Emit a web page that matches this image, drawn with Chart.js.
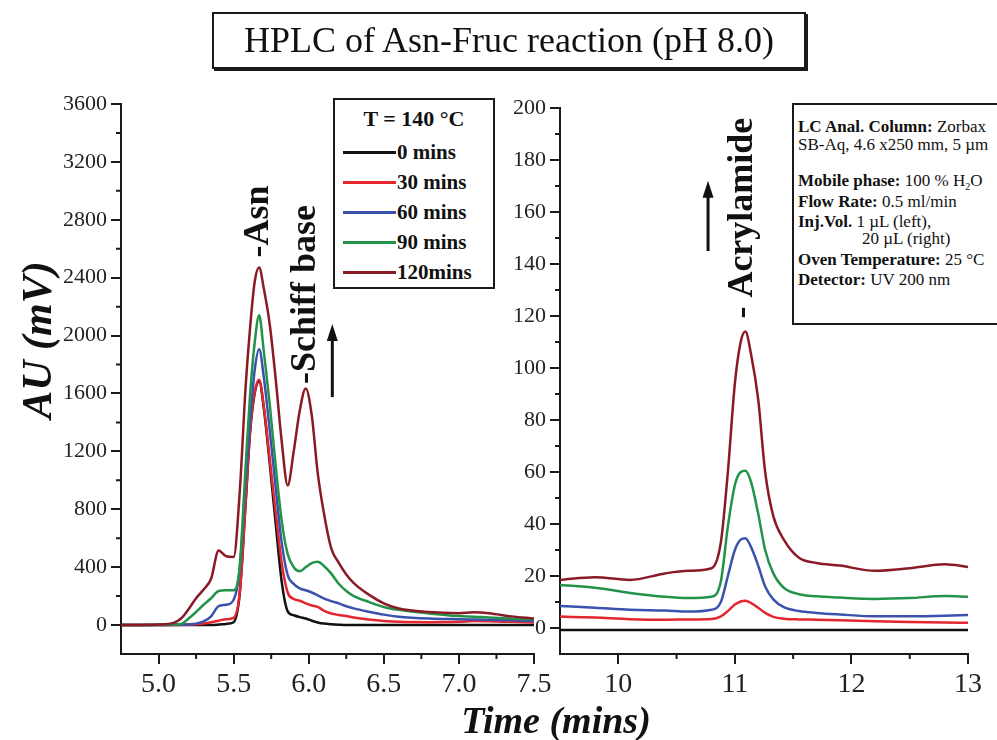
<!DOCTYPE html>
<html>
<head>
<meta charset="utf-8">
<title>HPLC of Asn-Fruc reaction (pH 8.0)</title>
<script src="https://cdn.jsdelivr.net/npm/chart.js@4.4.0/dist/chart.umd.min.js"></script>
<style>
  body { margin: 0; background: #fff; font-family: 'Liberation Serif', 'Times New Roman', serif; color: #111; }
  #wrap { position: relative; width: 997px; height: 740px; overflow: hidden; }
  canvas { position: absolute; top: 0; }
  #left { left: 0; }
  #right { left: 480px; }
  .box { position: absolute; border: 2px solid #1a1a1a; background: #fff; box-sizing: border-box; }
  #title { left: 212px; top: 12px; width: 594px; height: 57px; box-shadow: 2px 2px 0 #1a1a1a;
           font-size: 36px; text-align: center; line-height: 52px; }
  #legend { left: 333px; top: 98px; width: 162px; height: 191px; font-weight: bold; font-size: 21px; }
  #legend .head { position: absolute; left: 0; width: 100%; top: 7px; line-height: 24px; text-align: center; font-size: 22px; }
  #legend .row { position: absolute; left: 8px; line-height: 24px; white-space: nowrap; }
  #legend .swatch { display: inline-block; width: 53px; height: 3px; vertical-align: middle; margin-right: 1px; position: relative; top: -2px; }
  #info { left: 792px; top: 103px; width: 240px; height: 222px; font-size: 17px; }
  #info div { position: absolute; left: 4px; line-height: 18px; white-space: nowrap; }
  .ytitle { position: absolute; left: -63px; top: 316px; width: 200px; line-height: 50px; text-align: center;
            font: italic bold 42px 'Liberation Serif', serif; transform: rotate(-90deg); }
  .xtitle { position: absolute; left: 356px; top: 698px; width: 400px; line-height: 36px; text-align: center;
            font: italic bold 38px 'Liberation Serif', serif; }
</style>
</head>
<body>
<div id="wrap">
  <canvas id="left" width="560" height="740"></canvas>
  <canvas id="right" width="517" height="740"></canvas>
  <div id="title" class="box">HPLC of Asn-Fruc reaction (pH 8.0)</div>
  <div id="legend" class="box"></div>
  <div id="info" class="box">
    <div style="top:13px"><b>LC Anal. Column:</b> Zorbax</div>
    <div style="top:31px">SB-Aq, 4.6 x250 mm, 5 µm</div>
    <div style="top:67px"><b>Mobile phase:</b> 100 % H<sub style="font-size:10px">2</sub>O</div>
    <div style="top:88px"><b>Flow Rate:</b> 0.5 ml/min</div>
    <div style="top:108px"><b>Inj.Vol.</b> 1 µL (left),</div>
    <div style="top:125px; left:68px">20 µL (right)</div>
    <div style="top:146px"><b>Oven Temperature:</b> 25 °C</div>
    <div style="top:166px"><b>Detector:</b> UV 200 nm</div>
  </div>
  <div class="ytitle">AU (mV)</div>
  <div class="xtitle">Time (mins)</div>
</div>
<script>
// Reaction times and trace colours
const seriesNames = ['0 mins', '30 mins', '60 mins', '90 mins', '120mins'];
const seriesColors = ['#111111', '#e3262f', '#3a52ad', '#23934a', '#8a1a26'];
const legendTitle = 'T = 140 °C';

// Left panel: Asn / Schiff base region, 1 µL injection (mV)
const timeLeft = [4.75, 5.0, 5.1, 5.15, 5.2, 5.25, 5.3, 5.35, 5.4, 5.45,
                  5.5, 5.54, 5.58, 5.61, 5.64, 5.67, 5.7, 5.74, 5.78, 5.82,
                  5.86, 5.9, 5.94, 5.98, 6.02, 6.06, 6.1, 6.15, 6.2, 6.25,
                  6.3, 6.4, 6.5, 6.6, 6.8, 7.0, 7.1, 7.2, 7.35, 7.5];
const left0   = [0, 0, 0, 0, 0, 0, 0, 0, 3, 8,
                 20, 210, 840, 1340, 1600, 1685, 1505, 1120, 700, 300,
                 95, 68, 55, 45, 30, 18, 10, 5, 2, 0,
                 0, 0, 0, 0, 0, 0, 0, 0, 0, 0];
const left30  = [0, 0, 0, 2, 3, 5, 10, 20, 30, 40,
                 50, 220, 850, 1350, 1610, 1695, 1520, 1150, 780, 430,
                 225, 180, 168, 150, 135, 125, 100, 80, 70, 62,
                 52, 38, 28, 22, 20, 22, 28, 26, 22, 18];
const left60  = [0, 0, 2, 3, 5, 10, 25, 60, 130, 140,
                 175, 380, 1000, 1420, 1760, 1905, 1720, 1350, 950, 570,
                 345, 285, 253, 240, 225, 205, 185, 165, 150, 130,
                 115, 92, 72, 58, 45, 40, 38, 36, 33, 28];
const left90  = [0, 2, 5, 8, 45, 90, 140, 185, 235, 240,
                 240, 400, 1100, 1600, 1950, 2140, 1900, 1530, 1100, 720,
                 490, 400, 372, 400, 428, 438, 410, 355, 285, 235,
                 200, 160, 125, 105, 80, 62, 58, 52, 45, 38];
const left120 = [0, 4, 15, 45, 110, 185, 245, 320, 515, 475,
                 470, 910, 1650, 2060, 2370, 2470, 2330, 2080, 1700, 1270,
                 965, 1200, 1480, 1635, 1450, 1050, 780, 530, 430, 350,
                 290, 210, 150, 115, 90, 82, 88, 82, 60, 45];

// Right panel: acrylamide region, 20 µL injection (mV)
const timeRight = [9.5, 9.8, 10.1, 10.4, 10.6, 10.8, 10.88, 10.94, 11.0, 11.05,
                   11.09, 11.14, 11.2, 11.26, 11.33, 11.42, 11.55, 11.7, 11.9, 12.2,
                   12.5, 12.8, 13.0];
const right0   = [-0.8, -0.8, -0.8, -0.8, -0.8, -0.8, -0.8, -0.8, -0.8, -0.8,
                  -0.8, -0.8, -0.8, -0.8, -0.8, -0.8, -0.8, -0.8, -0.8, -0.8,
                  -0.8, -0.8, -0.8];
const right30  = [4.4, 4, 3.4, 3.2, 3.3, 3.5, 4.5, 6.5, 9, 10.2,
                  10.5, 9.6, 7.8, 5.8, 4.3, 3.6, 3.3, 3.2, 3, 2.6,
                  2.3, 2.1, 2];
const right60  = [8.5, 7.8, 7, 6.7, 6.3, 7, 10, 20, 30, 34,
                  34.5, 31, 24, 16, 11, 8, 6.5, 5.8, 5.2, 4.5,
                  4.5, 4.7, 5];
const right90  = [16.5, 15.5, 13.5, 12, 11.5, 12, 18, 39, 55, 60,
                  60.5, 56, 44, 30, 21, 15.5, 13, 12.2, 11.7, 11.2,
                  11.5, 12.3, 12];
const right120 = [18.5, 19.5, 18.5, 21, 22, 23, 33, 60, 94, 110,
                  114, 105, 88, 60, 43, 34, 27, 25, 24, 22,
                  23, 24.5, 23.5];

// Axis ticks
const xTicksLeft = [5.0, 5.5, 6.0, 6.5, 7.0, 7.5];
const xMinorLeft = [5.25, 5.75, 6.25, 6.75, 7.25];
const yTicksLeft = [0, 400, 800, 1200, 1600, 2000, 2400, 2800, 3200, 3600];
const yMinorLeft = [200, 600, 1000, 1400, 1800, 2200, 2600, 3000, 3400];
const xTicksRight = [10, 11, 12, 13];
const xMinorRight = [10.5, 11.5, 12.5];
const yTicksRight = [0, 20, 40, 60, 80, 100, 120, 140, 160, 180, 200];
const yMinorRight = [10, 30, 50, 70, 90, 110, 130, 150, 170, 190];

const serif = "'Liberation Serif', 'Times New Roman', serif";
const axisColor = '#1a1a1a';

// legend box
const legendEl = document.getElementById('legend');
legendEl.innerHTML = `<div class="head">${legendTitle}</div>` +
  seriesNames.map((name, i) =>
    `<div class="row" style="top:${40 + i * 30}px"><span class="swatch" style="background:${seriesColors[i]}"></span>${name}</div>`
  ).join('');

// short unlabelled ticks between the major ones
const minorTicks = {
  id: 'minorTicks',
  afterDraw(chart, args, opts) {
    const { ctx, chartArea, scales } = chart;
    ctx.save();
    ctx.strokeStyle = axisColor;
    ctx.lineWidth = 2;
    ctx.beginPath();
    opts.x.forEach(v => {
      const px = scales.x.getPixelForValue(v);
      ctx.moveTo(px, chartArea.bottom);
      ctx.lineTo(px, chartArea.bottom + 5);
    });
    opts.y.forEach(v => {
      const py = scales.y.getPixelForValue(v);
      ctx.moveTo(chartArea.left, py);
      ctx.lineTo(chartArea.left - 5, py);
    });
    ctx.stroke();
    ctx.restore();
  }
};

// vertical peak labels and "increasing" arrows
const peakNotes = {
  id: 'peakNotes',
  afterDatasetsDraw(chart, args, opts) {
    const { ctx, scales: { x, y } } = chart;
    ctx.save();
    ctx.fillStyle = '#111';
    ctx.strokeStyle = '#111';
    opts.labels.forEach(n => {
      ctx.save();
      ctx.translate(x.getPixelForValue(n.x), y.getPixelForValue(n.y));
      ctx.rotate(-Math.PI / 2);
      ctx.font = `bold ${n.size}px ${serif}`;
      ctx.textAlign = 'left';
      ctx.textBaseline = 'middle';
      ctx.fillText(n.text, 0, 0);
      ctx.restore();
    });
    opts.arrows.forEach(a => {
      const px = x.getPixelForValue(a.x);
      const y0 = y.getPixelForValue(a.from);
      const y1 = y.getPixelForValue(a.to);
      ctx.lineWidth = 3;
      ctx.beginPath();
      ctx.moveTo(px, y0);
      ctx.lineTo(px, y1 + 10);
      ctx.stroke();
      ctx.beginPath();
      ctx.moveTo(px, y1);
      ctx.lineTo(px - 5.5, y1 + 17);
      ctx.lineTo(px + 5.5, y1 + 17);
      ctx.closePath();
      ctx.fill();
    });
    ctx.restore();
  }
};

function makeDatasets(times, series) {
  return series.map((vals, i) => ({
    label: seriesNames[i],
    data: times.map((t, k) => ({ x: t, y: vals[k] })),
    borderColor: seriesColors[i],
    borderWidth: 2.5,
    pointRadius: 0,
    cubicInterpolationMode: 'monotone',
    fill: false,
    order: series.length - 1 - i
  }));
}

function axis(min, max, ticks, fmt, size, fit) {
  return {
    type: 'linear',
    min, max,
    afterBuildTicks: s => { s.ticks = ticks.map(v => ({ value: v })); },
    afterFit: fit,
    ticks: { callback: fmt, font: { family: serif, size }, color: '#222', padding: 4,
             autoSkip: false, maxRotation: 0 },
    grid: { drawOnChartArea: false, color: axisColor, lineWidth: 2, tickLength: 10 },
    border: { color: axisColor, width: 2 }
  };
}

function makeChart(id, opts) {
  return new Chart(document.getElementById(id), {
    type: 'line',
    data: { datasets: makeDatasets(opts.times, opts.series) },
    options: {
      responsive: false,
      animation: false,
      devicePixelRatio: 1,
      layout: { padding: { top: opts.padTop, right: opts.padRight, left: 0, bottom: 0 } },
      scales: {
        x: axis(opts.xMin, opts.xMax, opts.xTicks, opts.xFmt, 28, s => { s.height = 86; }),
        y: axis(opts.yMin, opts.yMax, opts.yTicks, v => String(v), 22, s => { s.width = opts.yWidth; })
      },
      plugins: {
        legend: { display: false },
        tooltip: { enabled: false },
        minorTicks: { x: opts.xMinor, y: opts.yMinor },
        peakNotes: { labels: opts.labels, arrows: opts.arrows }
      }
    },
    plugins: [minorTicks, peakNotes]
  });
}

makeChart('left', {
  times: timeLeft,
  series: [left0, left30, left60, left90, left120],
  xMin: 4.75, xMax: 7.5, yMin: -200, yMax: 3600,
  xTicks: xTicksLeft, xMinor: xMinorLeft, yTicks: yTicksLeft, yMinor: yMinorLeft,
  xFmt: v => v.toFixed(1),
  yWidth: 121, padTop: 104, padRight: 26,
  labels: [
    { text: '-Asn', x: 5.665, y: 2540, size: 36 },
    { text: '-Schiff base', x: 5.977, y: 1665, size: 36 }
  ],
  arrows: [{ x: 6.157, from: 1575, to: 2080 }]
});

makeChart('right', {
  times: timeRight,
  series: [right0, right30, right60, right90, right120],
  xMin: 9.5, xMax: 13, yMin: -10, yMax: 200,
  xTicks: xTicksRight, xMinor: xMinorRight, yTicks: yTicksRight, yMinor: yMinorRight,
  xFmt: v => String(v),
  yWidth: 80, padTop: 108, padRight: 29,
  labels: [{ text: '- Acrylamide', x: 11.07, y: 119, size: 36 }],
  arrows: [{ x: 10.77, from: 145, to: 172 }]
});
</script>
</body>
</html>
